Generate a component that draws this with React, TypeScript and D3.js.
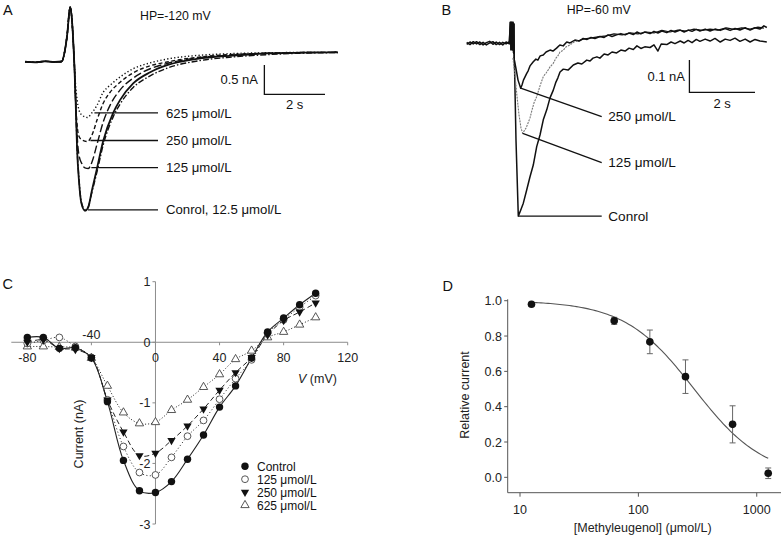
import React from 'react';
import * as d3 from 'd3';

type P = [number, number];

// ---------- Panel A (HP = -120 mV) : [time s, current nA] ----------
const aPre: P[] = [[0, -0.16], [0.33, -0.17], [0.66, -0.153], [0.99, -0.165], [1.21, -0.157], [1.32, 0.04], [1.39, 0.29], [1.49, 0.77], [1.55, 0.55], [1.59, 0.21], [1.63, -0.22]];
const aControl: P[] = [[1.67, -0.81], [1.72, -1.66], [1.78, -2.18], [1.86, -2.57], [1.98, -2.7], [2.08, -2.65], [2.21, -2.35], [2.37, -1.99], [2.58, -1.51], [2.91, -1.03], [3.14, -0.81], [3.57, -0.53], [4.13, -0.34], [4.69, -0.22], [5.78, -0.105], [6.86, -0.055], [7.99, -0.02], [9.08, -0.007], [10.33, 0]];
const a12_5: P[] = [[1.67, -0.8], [1.72, -1.64], [1.78, -2.15], [1.86, -2.55], [1.98, -2.68], [2.08, -2.64], [2.21, -2.38], [2.37, -2.05], [2.58, -1.58], [2.91, -1.1], [3.14, -0.88], [3.57, -0.6], [4.13, -0.4], [4.69, -0.27], [5.78, -0.14], [6.86, -0.08], [7.99, -0.04], [9.08, -0.015], [10.33, -0.005]];
const a125: P[] = [[1.67, -0.81], [1.72, -1.41], [1.78, -1.75], [1.88, -1.9], [1.98, -1.97], [2.09, -1.98], [2.21, -1.87], [2.37, -1.58], [2.58, -1.19], [2.81, -0.9], [3.14, -0.64], [3.57, -0.44], [4.13, -0.28], [4.69, -0.19], [5.78, -0.09], [6.86, -0.046], [7.99, -0.017], [9.08, -0.005], [10.33, 0]];
const a250: P[] = [[1.67, -0.81], [1.72, -1.24], [1.78, -1.43], [1.88, -1.49], [2.06, -1.52], [2.21, -1.41], [2.38, -1.15], [2.57, -0.88], [2.81, -0.68], [3.14, -0.51], [3.57, -0.35], [4.13, -0.23], [4.69, -0.165], [5.78, -0.08], [6.86, -0.037], [7.99, -0.015], [9.08, -0.005], [10.33, 0]];
const a625: P[] = [[1.67, -0.56], [1.72, -0.81], [1.78, -0.98], [1.88, -1.07], [2.06, -1.11], [2.21, -1.03], [2.38, -0.9], [2.57, -0.69], [2.81, -0.56], [3.14, -0.42], [3.57, -0.28], [4.13, -0.18], [4.69, -0.115], [5.78, -0.05], [6.86, -0.022], [7.99, -0.008], [9.08, -0.003], [10.33, 0]];
const aLabels = ['625 μmol/L', '250 μmol/L', '125 μmol/L', 'Conrol, 12.5 μmol/L'];

// ---------- Panel B (HP = -60 mV) ----------
const bPreControl: P[] = [[0, 0.003], [0.1, -0.004], [0.2, 0.005], [0.3, -0.002], [0.4, 0.004], [0.5, -0.005], [0.6, 0.002], [0.7, 0.006], [0.8, -0.003], [0.9, 0.004], [1.0, -0.004], [1.1, 0.003], [1.2, -0.002], [1.3, 0.005]];
const bPre250: P[] = [[0, -0.003], [0.1, 0.004], [0.2, -0.002], [0.3, 0.005], [0.4, -0.004], [0.5, 0.003], [0.6, -0.005], [0.7, 0.001], [0.8, 0.005], [0.9, -0.004], [1.0, 0.003], [1.1, -0.005], [1.2, 0.004], [1.3, -0.002]];
const bArtifact: P[] = [[1.33, 0.065], [1.35, -0.02], [1.37, 0.065], [1.39, -0.02], [1.41, 0.065], [1.43, -0.03], [1.44, 0.06], [1.45, -0.05]];
const bControl: P[] = [[1.46, -0.08], [1.503, -0.3], [1.573, -0.535], [1.625, -0.522], [1.726, -0.495], [1.829, -0.454], [1.93, -0.413], [2.03, -0.377], [2.134, -0.32], [2.235, -0.284], [2.335, -0.237], [2.44, -0.206], [2.54, -0.169], [2.64, -0.145], [2.72, -0.12], [2.78, -0.107], [2.845, -0.089], [2.945, -0.08], [3.09, -0.083], [3.25, -0.067], [3.39, -0.061], [3.51, -0.064], [3.66, -0.052], [3.76, -0.055], [3.85, -0.046], [3.97, -0.042], [4.06, -0.046], [4.19, -0.033], [4.31, -0.036], [4.43, -0.027], [4.57, -0.03], [4.7, -0.021], [4.83, -0.024], [4.95, -0.015], [5.08, -0.019], [5.19, -0.008], [5.31, -0.016], [5.43, -0.011], [5.59, -0.013], [5.71, -0.005], [5.83, -0.024], [5.93, -0.002], [6.1, -0.004], [6.23, 0.004], [6.35, -0.001], [6.51, 0.007], [6.63, 0.001], [6.75, 0.009], [6.87, 0.002], [7.0, 0.012], [7.11, 0.006], [7.27, 0.013], [7.42, 0.007], [7.57, 0.015], [7.73, 0.004], [7.88, 0.013], [8.03, 0.009], [8.18, 0.016], [8.33, 0.006], [8.49, 0.013], [8.64, 0.004], [8.79, 0.012], [8.94, 0.007], [9.15, 0.004]];
const b250: P[] = [[1.44, -0.045], [1.5, -0.077], [1.565, -0.114], [1.646, -0.139], [1.686, -0.129], [1.73, -0.114], [1.83, -0.093], [1.87, -0.086], [1.93, -0.07], [2.03, -0.057], [2.11, -0.049], [2.17, -0.052], [2.24, -0.039], [2.335, -0.036], [2.42, -0.027], [2.54, -0.021], [2.63, -0.024], [2.74, -0.015], [2.84, -0.005], [2.94, -0.008], [3.05, 0.004], [3.15, 0.001], [3.3, 0.01], [3.43, 0.007], [3.55, 0.015], [3.67, 0.012], [3.79, 0.018], [3.91, 0.015], [4.06, 0.021], [4.19, 0.018], [4.31, 0.026], [4.43, 0.021], [4.57, 0.026], [4.7, 0.03], [4.83, 0.026], [4.95, 0.032], [5.08, 0.027], [5.19, 0.035], [5.31, 0.029], [5.43, 0.035], [5.59, 0.03], [5.71, 0.037], [5.83, 0.032], [5.95, 0.038], [6.1, 0.033], [6.23, 0.04], [6.35, 0.035], [6.51, 0.041], [6.63, 0.035], [6.75, 0.041], [6.87, 0.037], [7.0, 0.043], [7.11, 0.038], [7.27, 0.044], [7.42, 0.038], [7.57, 0.044], [7.73, 0.04], [7.88, 0.046], [8.03, 0.04], [8.18, 0.046], [8.33, 0.041], [8.49, 0.048], [8.64, 0.041], [8.79, 0.048], [8.94, 0.044], [9.06, 0.054], [9.15, 0.049]];
const b125: P[] = [[1.41, -0.045], [1.47, -0.098], [1.53, -0.16], [1.595, -0.222], [1.655, -0.262], [1.707, -0.279], [1.747, -0.272], [1.81, -0.262], [1.87, -0.247], [1.93, -0.231], [1.99, -0.207], [2.05, -0.185], [2.134, -0.165], [2.235, -0.132], [2.335, -0.103], [2.42, -0.092], [2.48, -0.083], [2.54, -0.073], [2.64, -0.062], [2.72, -0.046], [2.78, -0.039], [2.845, -0.027], [2.945, -0.021], [3.03, -0.011], [3.15, -0.005], [3.27, 0.004], [3.39, 0.007], [3.55, 0.013], [3.76, 0.016], [4.0, 0.02], [4.25, 0.023], [4.49, 0.029], [4.74, 0.026], [4.98, 0.032], [5.22, 0.029], [5.47, 0.035], [5.71, 0.032], [5.95, 0.04], [6.2, 0.035], [6.44, 0.041], [6.69, 0.038], [6.93, 0.044], [7.18, 0.04], [7.42, 0.044], [7.66, 0.041], [7.91, 0.048], [8.15, 0.043], [8.39, 0.048], [8.64, 0.044], [8.88, 0.05], [9.06, 0.047]];
const bLabels = ['250 μmol/L', '125 μmol/L', 'Conrol'];

// ---------- Panel C (I-V) ----------
const cVoltages = [-80, -70, -60, -50, -40, -30, -20, -10, 0, 10, 20, 30, 40, 50, 60, 70, 80, 90, 100];
const cControl = [0.08, 0.08, -0.1, -0.09, -0.26, -0.98, -1.95, -2.45, -2.48, -2.3, -1.93, -1.53, -1.07, -0.72, -0.26, 0.17, 0.4, 0.62, 0.81];
const c125 = [-0.02, 0.03, 0.08, -0.07, -0.25, -0.95, -1.72, -2.15, -2.19, -1.9, -1.55, -1.29, -0.94, -0.6, -0.29, 0.15, 0.37, 0.58, 0.77];
const c250 = [0.0, 0.04, -0.1, -0.12, -0.25, -0.95, -1.48, -1.87, -1.83, -1.62, -1.38, -1.1, -0.79, -0.5, -0.25, 0.12, 0.36, 0.5, 0.65];
const c625 = [-0.07, -0.07, -0.08, -0.09, -0.26, -0.72, -1.16, -1.34, -1.32, -1.12, -0.95, -0.74, -0.53, -0.28, -0.14, 0.08, 0.17, 0.29, 0.41];
const cXTicks = [-80, -40, 0, 40, 80, 120];
const cYTicks = [1, 0, -1, -2, -3];
const cLegend = ['Control', '125 μmol/L', '250 μmol/L', '625 μmol/L'];

// ---------- Panel D (concentration-response) ----------
const dConc = [12.5, 62.5, 125, 250, 625, 1250];
const dMean = [0.98, 0.886, 0.767, 0.57, 0.3, 0.023];
const dErr = [0.01, 0.02, 0.067, 0.095, 0.105, 0.03];
const dYTicks = [0, 0.2, 0.4, 0.6, 0.8, 1.0];
const dXTicks = [10, 100, 1000];
const dIC50 = 296;
const dHill = 1.47;

const FONT = 'Liberation Sans, Arial, Helvetica, sans-serif';

export default function App() {
  // Panel A scales
  const xA = d3.scaleLinear().domain([0, 10]).range([25, 25 + 303]);
  const yA = d3.scaleLinear().domain([0, 1]).range([52.3, 52.3 - 58.7]);
  const lineA = d3.line<P>().x(d => xA(d[0])).y(d => yA(d[1])).curve(d3.curveMonotoneX);
  const aTraces = [
    { data: a625, label: aLabels[0] },
    { data: a250, label: aLabels[1] },
    { data: a125, label: aLabels[2] },
    { data: aControl, label: aLabels[3] },
  ];
  const trough = (d: P[]) => d.reduce((m, p) => (p[1] < m[1] ? p : m), d[0]);

  // Panel B scales
  const xB = d3.scaleLinear().domain([0, 1]).range([466.7, 466.7 + 32.8]);
  const yB = d3.scaleLinear().domain([0, 0.1]).range([43.3, 43.3 - 32.3]);
  const lineB = d3.line<P>().x(d => xB(d[0])).y(d => yB(d[1]));

  // Panel C scales
  const xC = d3.scaleLinear().domain([-90, 120]).range([11.3, 347.7]);
  const yC = d3.scaleLinear().domain([-3, 1]).range([524, 281.7]);
  const lineC = d3.line<number>().x((_, i) => xC(cVoltages[i])).y(d => yC(d)).curve(d3.curveCatmullRom.alpha(0.5));
  const triUp = d3.symbol(d3.symbolTriangle, 30)()!;

  // Panel D scales
  const xD = d3.scaleLog().domain([7.87, 1603]).range([507.7, 781]);
  const yD = d3.scaleLinear().domain([-0.087, 1.008]).range([492.7, 299.3]);
  const fitC = d3.range(0, 101).map(i => 12.5 * Math.pow(100, i / 100));
  const fitLine = d3.line<number>().x(c => xD(c)).y(c => yD(1 / (1 + Math.pow(c / dIC50, dHill))));

  const fs = 12.5;

  const marker = (kind: number, x: number, y: number, key: string) => {
    if (kind === 0) return <circle key={key} cx={x} cy={y} r={3.7} fill="#111" />;
    if (kind === 1) return <circle key={key} cx={x} cy={y} r={3.4} fill="#fff" stroke="#444" strokeWidth={0.9} />;
    if (kind === 2) return <path key={key} d={triUp} transform={`translate(${x},${y}) rotate(180)`} fill="#111" />;
    return <path key={key} d={triUp} transform={`translate(${x},${y})`} fill="#fff" stroke="#444" strokeWidth={0.9} />;
  };

  const cSeries = [cControl, c125, c250, c625];
  const cDash = [null, '1,2.4', '5,3', '1,2'];
  const legStep = 13;

  return (
    <svg width={784} height={541} style={{ position: 'absolute', left: 0, top: 0, background: '#fff' }} fontFamily={FONT}>
      <rect x={0} y={0} width={784} height={541} fill="#fff" />

      {/* ================= Panel A ================= */}
      <text x={3} y={15} fontSize={14.5} fill="#111">A</text>
      <text x={140} y={20} fontSize={12.3} fill="#111">HP=-120 mV</text>
      <g fill="none" stroke="#111" strokeWidth={1.4}>
        <path d={lineA([...aPre, ...aControl])!} strokeWidth={1.8} />
        <path d={lineA([...aPre, ...a12_5])!} strokeDasharray="6,2,1.5,2" />
        <path d={lineA([...aPre, ...a125])!} strokeDasharray="8,3" />
        <path d={lineA([...aPre, ...a250])!} strokeDasharray="4,2.5" />
        <path d={lineA([...aPre, ...a625])!} strokeDasharray="1.3,2.2" />
      </g>
      {aTraces.map((t, i) => {
        const p = trough(t.data);
        const x0 = xA(p[0]) + (i === 0 ? 7 : 3);
        const y0 = yA(p[1]) + (i === 0 ? -4.5 : -1);
        return (
          <g key={'al' + i}>
            <line x1={x0} y1={y0} x2={158} y2={y0} stroke="#111" strokeWidth={1.3} />
            <text x={166} y={y0 + 4.6} fontSize={13.2} fill="#111">{t.label}</text>
          </g>
        );
      })}
      {/* scale bar A */}
      <g stroke="#111" strokeWidth={1.3} fill="none">
        <path d={`M${xA(7.9)},${yA(-0.716 + 0.5)}V${yA(-0.716)}H${xA(7.9 + 2)}`} />
      </g>
      <text x={258} y={83.5} fontSize={13} textAnchor="end" fill="#111">0.5 nA</text>
      <text x={xA(7.9 + 1)} y={108.5} fontSize={13} textAnchor="middle" fill="#111">2 s</text>

      {/* ================= Panel B ================= */}
      <text x={441.5} y={15} fontSize={14.5} fill="#111">B</text>
      <text x={566.7} y={13.5} fontSize={12.3} fill="#111">HP=-60 mV</text>
      <g fill="none" strokeLinejoin="round">
        <path d={lineB([...bPre250, ...bArtifact, ...b250])!} stroke="#111" strokeWidth={1.5} />
        <path d={lineB([...bPreControl, ...bArtifact, ...bControl])!} stroke="#111" strokeWidth={1.5} />
        <path d={lineB(b125.filter(p => p[0] <= 3.4))!} stroke="#777" strokeWidth={1.1} strokeDasharray="2,1" />
        <path d={lineB(b125.filter(p => p[0] >= 3.39))!} stroke="#111" strokeWidth={1.2} />
      </g>
      {[b250, b125, bControl].map((d, i) => {
        const p = trough(d);
        const x0 = xB(p[0]);
        const y0 = yB(p[1]);
        const yEnd = [116.7, 162.7, y0][i];
        return (
          <g key={'bl' + i}>
            <line x1={x0} y1={y0} x2={601.7} y2={yEnd} stroke="#111" strokeWidth={1.3} />
            <text x={608.3} y={yEnd + 4.7} fontSize={13.6} fill="#111">{bLabels[i]}</text>
          </g>
        );
      })}
      <g stroke="#111" strokeWidth={1.3} fill="none">
        <path d={`M${xB(6.79)},${yB(-0.152 + 0.1)}V${yB(-0.152)}H${xB(6.79 + 2)}`} />
      </g>
      <text x={685} y={80.5} fontSize={13} textAnchor="end" fill="#111">0.1 nA</text>
      <text x={xB(6.79 + 1)} y={107.8} fontSize={13} textAnchor="middle" fill="#111">2 s</text>

      {/* ================= Panel C ================= */}
      <text x={2.5} y={288.5} fontSize={14.5} fill="#111">C</text>
      <g stroke="#8c8c8c" strokeWidth={1} fill="none">
        <line x1={xC(-90)} y1={yC(0)} x2={xC(120)} y2={yC(0)} />
        <line x1={xC(0)} y1={yC(1)} x2={xC(0)} y2={yC(-3)} />
        {cYTicks.map(v => <line key={'cyt' + v} x1={xC(0) - 3} x2={xC(0)} y1={yC(v)} y2={yC(v)} />)}
        {cXTicks.map(v => <line key={'cxt' + v} x1={xC(v)} x2={xC(v)} y1={yC(0)} y2={yC(0) + 3} />)}
      </g>
      {cYTicks.map(v => (
        <text key={'cyl' + v} x={xC(0) - 5} y={yC(v) + 4.5} fontSize={fs} textAnchor="end" fill="#222">{v}</text>
      ))}
      {cXTicks.filter(v => v !== -40).map(v => (
        <text key={'cxl' + v} x={xC(v)} y={yC(0) + 20} fontSize={fs} textAnchor="middle" fill="#222">{v}</text>
      ))}
      <text x={xC(-40)} y={yC(0) - 3} fontSize={fs} textAnchor="middle" fill="#222">-40</text>
      <text x={298} y={383} fontSize={fs} fill="#222"><tspan fontStyle="italic">V</tspan> (mV)</text>
      <text transform="translate(83,434) rotate(-90)" fontSize={fs} textAnchor="middle" fill="#222">Current (nA)</text>
      <g fill="none" stroke="#222" strokeWidth={1}>
        {cSeries.map((s, k) => (
          <path key={'cl' + k} d={lineC(s)!} strokeDasharray={cDash[k] ?? undefined} strokeWidth={k === 0 ? 1.1 : 1} />
        ))}
      </g>
      {[3, 1, 2, 0].map(k => cSeries[k].map((v, i) => marker(k, xC(cVoltages[i]), yC(v), `m${k}-${i}`)))}
      {cLegend.map((t, i) => (
        <g key={'cleg' + i}>
          {marker(i, 245, 466.2 + i * legStep, 'legm' + i)}
          <text x={257} y={466.2 + i * legStep + 4.3} fontSize={12} fill="#111">{t}</text>
        </g>
      ))}

      {/* ================= Panel D ================= */}
      <text x={442.5} y={290.5} fontSize={14.5} fill="#111">D</text>
      <g stroke="#555" strokeWidth={1} fill="none">
        <line x1={xD.range()[0]} y1={yD(-0.087)} x2={xD.range()[1]} y2={yD(-0.087)} />
        <line x1={xD.range()[0]} y1={yD(-0.087)} x2={xD.range()[0]} y2={yD(1.008)} />
        {dYTicks.map(v => <line key={'dyt' + v} x1={xD.range()[0] - 3.5} x2={xD.range()[0]} y1={yD(v)} y2={yD(v)} />)}
        {dXTicks.map(v => <line key={'dxt' + v} x1={xD(v)} x2={xD(v)} y1={yD(-0.087)} y2={yD(-0.087) + 4} />)}
      </g>
      {dYTicks.map(v => (
        <text key={'dyl' + v} x={502} y={yD(v) + 4.5} fontSize={fs} textAnchor="end" fill="#222">{v.toFixed(1)}</text>
      ))}
      {dXTicks.map(v => (
        <text key={'dxl' + v} x={xD(v)} y={514} fontSize={fs} textAnchor="middle" fill="#222">{v}</text>
      ))}
      <text transform="translate(469,395) rotate(-90)" fontSize={fs} textAnchor="middle" fill="#222">Relative current</text>
      <text x={642.7} y={531.5} fontSize={fs} textAnchor="middle" fill="#222">[Methyleugenol] (μmol/L)</text>
      <path d={fitLine(fitC)!} fill="none" stroke="#555" strokeWidth={1.1} />
      <g stroke="#666" strokeWidth={1}>
        {dConc.map((c, i) => (
          <g key={'de' + i}>
            <line x1={xD(c)} x2={xD(c)} y1={yD(dMean[i] - dErr[i])} y2={yD(dMean[i] + dErr[i])} />
            <line x1={xD(c) - 3} x2={xD(c) + 3} y1={yD(dMean[i] - dErr[i])} y2={yD(dMean[i] - dErr[i])} />
            <line x1={xD(c) - 3} x2={xD(c) + 3} y1={yD(dMean[i] + dErr[i])} y2={yD(dMean[i] + dErr[i])} />
          </g>
        ))}
      </g>
      {dConc.map((c, i) => <circle key={'dp' + i} cx={xD(c)} cy={yD(dMean[i])} r={3.8} fill="#111" />)}
    </svg>
  );
}
